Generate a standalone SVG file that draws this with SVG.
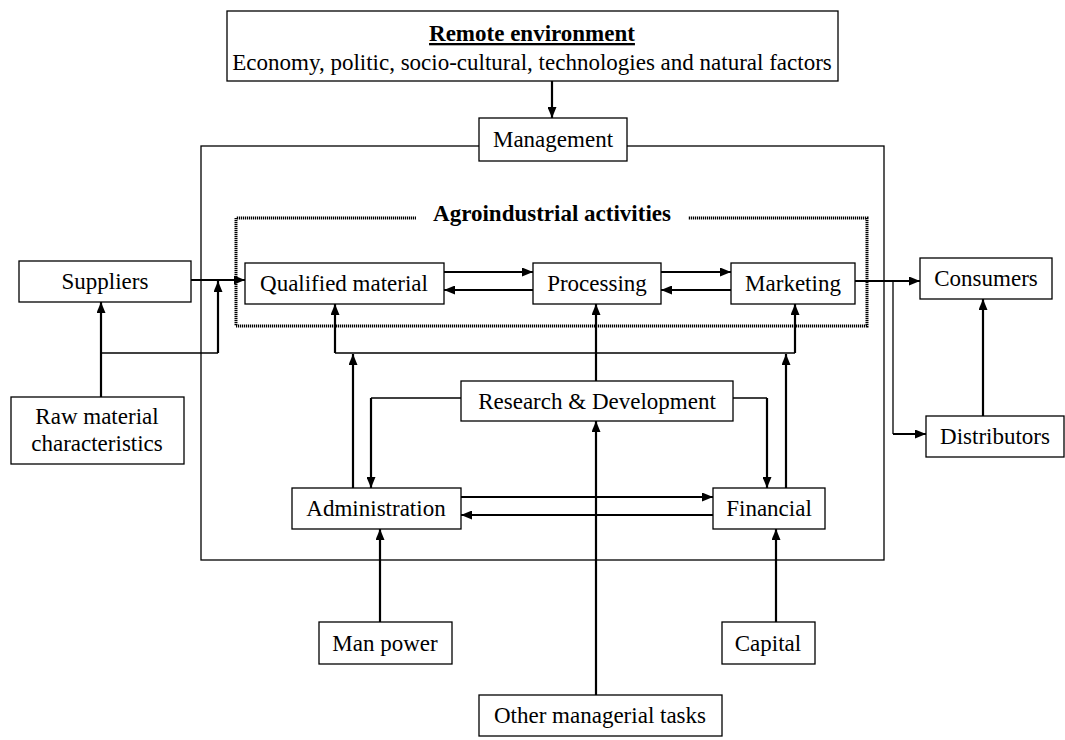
<svg xmlns="http://www.w3.org/2000/svg" width="1065" height="740" viewBox="0 0 1065 740">
  <style>
    .box { fill: #fff; stroke: #000; stroke-width: 1.3; }
    .lbl { font-family: "Liberation Serif", "Times New Roman", serif; font-size: 23px; fill: #000; text-anchor: middle; }
    .bold { font-weight: bold; }
    .thick { fill: none; stroke: #000; stroke-width: 2.2; }
    .thin { fill: none; stroke: #000; stroke-width: 1.3; }
    .arr { marker-end: url(#head); }
    .dots { fill: none; stroke: #000; stroke-width: 3; stroke-dasharray: 1.2 0.8; }
  </style>
  <defs>
    <marker id="head" markerUnits="userSpaceOnUse" markerWidth="11" markerHeight="9" refX="11" refY="4.5" orient="auto">
      <path d="M0,0 L11,4.5 L0,9 z" fill="#000"/>
    </marker>
  </defs>

  <rect width="1065" height="740" fill="#fff"/>

  <!-- management frame -->
  <rect id="frame" x="201" y="146" width="683" height="414" fill="none" stroke="#000" stroke-width="1.3"/>

  <!-- dotted agroindustrial activities boundary with title gap -->
  <g id="agro-boundary">
    <path class="dots" d="M416,218 H236 V326 H867 V218 H688"/>
    <text class="lbl bold" x="552" y="221">Agroindustrial activities</text>
  </g>

  <g id="connectors">
    <!-- remote environment to management -->
    <line class="thick arr" x1="552" y1="81" x2="552" y2="118"/>
    <!-- suppliers to qualified material -->
    <line class="thick arr" x1="191" y1="280" x2="245" y2="280"/>
    <!-- raw material characteristics -->
    <line class="thick arr" x1="101" y1="397" x2="101" y2="302"/>
    <line class="thin" x1="101" y1="353" x2="218" y2="353"/>
    <line class="thick arr" x1="218" y1="353" x2="218" y2="281"/>
    <!-- activity chain -->
    <line class="thick arr" x1="444" y1="272" x2="533" y2="272"/>
    <line class="thick arr" x1="533" y1="290" x2="444" y2="290"/>
    <line class="thick arr" x1="661" y1="272" x2="731" y2="272"/>
    <line class="thick arr" x1="731" y1="290" x2="661" y2="290"/>
    <!-- marketing to consumers and distributors -->
    <line class="thick arr" x1="855" y1="281" x2="920" y2="281"/>
    <path class="thin" d="M893,281 V434"/>
    <line class="thick arr" x1="893" y1="434" x2="926" y2="434"/>
    <line class="thick arr" x1="983" y1="416" x2="983" y2="299"/>
    <!-- support bus to qualified material and marketing -->
    <line class="thin" x1="335" y1="353" x2="795" y2="353"/>
    <line class="thick arr" x1="335" y1="353" x2="335" y2="304"/>
    <line class="thick arr" x1="795" y1="353" x2="795" y2="304"/>
    <line class="thick arr" x1="353" y1="488" x2="353" y2="354"/>
    <line class="thick arr" x1="786" y1="488" x2="786" y2="354"/>
    <!-- research & development -->
    <line class="thick arr" x1="596" y1="381" x2="596" y2="304"/>
    <path class="thin" d="M461,398 H371"/>
    <line class="thick arr" x1="371" y1="398" x2="371" y2="488"/>
    <path class="thin" d="M733,398 H767"/>
    <line class="thick arr" x1="767" y1="398" x2="767" y2="488"/>
    <!-- administration and financial -->
    <line class="thick arr" x1="461" y1="497" x2="713" y2="497"/>
    <line class="thick arr" x1="713" y1="515" x2="461" y2="515"/>
    <!-- resources -->
    <line class="thick arr" x1="596" y1="695" x2="596" y2="421"/>
    <line class="thick arr" x1="380" y1="622" x2="380" y2="529"/>
    <line class="thick arr" x1="776" y1="622" x2="776" y2="529"/>
  </g>

  <g id="remote">
    <rect class="box" x="227" y="11" width="611" height="70"/>
    <text class="lbl bold" x="532" y="41" text-decoration="underline">Remote environment</text>
    <text class="lbl" x="532" y="70">Economy, politic, socio-cultural, technologies and natural factors</text>
  </g>
  <g id="management">
    <rect class="box" x="479" y="118" width="148" height="43"/>
    <text class="lbl" x="553" y="147">Management</text>
  </g>
  <g id="suppliers">
    <rect class="box" x="19" y="261" width="172" height="41"/>
    <text class="lbl" x="105" y="289">Suppliers</text>
  </g>
  <g id="raw-material">
    <rect class="box" x="11" y="397" width="173" height="67"/>
    <text class="lbl" x="97" y="424">Raw material</text>
    <text class="lbl" x="97" y="451">characteristics</text>
  </g>
  <g id="qualified-material">
    <rect class="box" x="245" y="263" width="199" height="41"/>
    <text class="lbl" x="344" y="291">Qualified material</text>
  </g>
  <g id="processing">
    <rect class="box" x="533" y="263" width="128" height="41"/>
    <text class="lbl" x="597" y="291">Processing</text>
  </g>
  <g id="marketing">
    <rect class="box" x="731" y="263" width="124" height="41"/>
    <text class="lbl" x="793" y="291">Marketing</text>
  </g>
  <g id="consumers">
    <rect class="box" x="920" y="258" width="132" height="41"/>
    <text class="lbl" x="986" y="286">Consumers</text>
  </g>
  <g id="distributors">
    <rect class="box" x="926" y="416" width="138" height="41"/>
    <text class="lbl" x="995" y="444">Distributors</text>
  </g>
  <g id="research">
    <rect class="box" x="461" y="381" width="272" height="40"/>
    <text class="lbl" x="597" y="409">Research &amp; Development</text>
  </g>
  <g id="administration">
    <rect class="box" x="292" y="488" width="169" height="41"/>
    <text class="lbl" x="376" y="516">Administration</text>
  </g>
  <g id="financial">
    <rect class="box" x="713" y="488" width="112" height="41"/>
    <text class="lbl" x="769" y="516">Financial</text>
  </g>
  <g id="man-power">
    <rect class="box" x="319" y="622" width="133" height="42"/>
    <text class="lbl" x="385" y="651">Man power</text>
  </g>
  <g id="capital">
    <rect class="box" x="722" y="622" width="93" height="42"/>
    <text class="lbl" x="768" y="651">Capital</text>
  </g>
  <g id="other-tasks">
    <rect class="box" x="479" y="695" width="243" height="41"/>
    <text class="lbl" x="600" y="723">Other managerial tasks</text>
  </g>
</svg>
